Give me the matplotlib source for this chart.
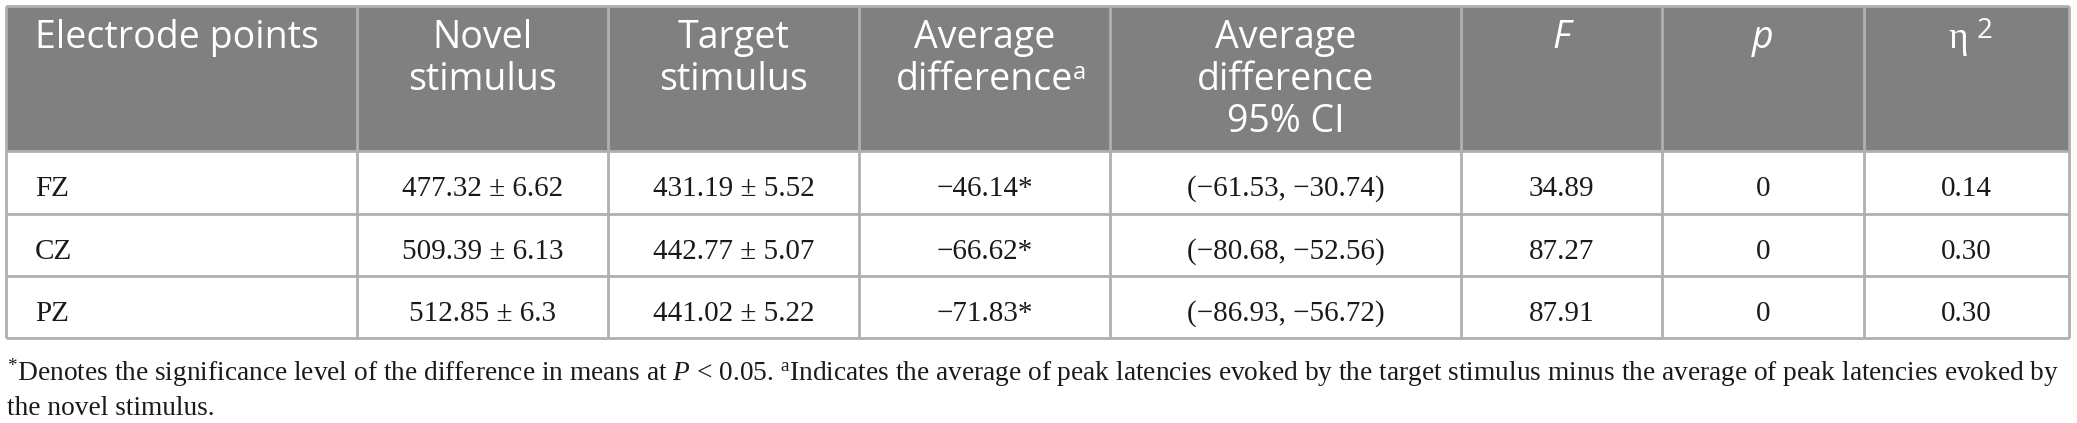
import matplotlib
matplotlib.use("Agg")
import matplotlib.pyplot as plt
from matplotlib.patches import Rectangle

plt.rcParams["mathtext.fontset"] = "custom"
plt.rcParams["mathtext.rm"] = "Liberation Serif"
plt.rcParams["mathtext.it"] = "Liberation Serif:italic"

# Table data
electrodes = ["FZ", "CZ", "PZ"]
novel_mean = [477.32, 509.39, 512.85]
novel_se = [6.62, 6.13, 6.3]
target_mean = [431.19, 442.77, 441.02]
target_se = [5.52, 5.07, 5.22]
avg_diff = [-46.14, -66.62, -71.83]
ci_low = [-61.53, -80.68, -86.93]
ci_high = [-30.74, -52.56, -56.72]
f_values = [34.89, 87.27, 87.91]
p_values = [0, 0, 0]
eta_sq = [0.14, 0.30, 0.30]

headers = [
    ["Electrode points"],
    ["Novel", "stimulus"],
    ["Target", "stimulus"],
    ["Average", "difference"],
    ["Average", "difference", "95% CI"],
    ["F"],
    ["p"],
    ["η"],
]

footnote_lines = [
    r"$^{*}$Denotes the significance level of the difference in means at $P$ < 0.05. "
    r"$^{\mathrm{a}}$Indicates the average of peak latencies evoked by the target stimulus "
    r"minus the average of peak latencies evoked by",
    "the novel stimulus.",
]

# Layout (pixels)
W, H = 2077, 423
col_edges = [6, 357, 608, 859, 1110, 1461, 1662, 1864, 2069]
row_edges = [6, 151, 214, 276, 338]
HEAD_BG = "#808080"
LINE = "#b0b0b0"
SANS = ["Open Sans", "DejaVu Sans"]
SERIF = ["Liberation Serif", "DejaVu Serif"]
HEAD_SIZE = 27
BODY_SIZE = 21
NOTE_SIZE = 19.7


def minus(v):
    return f"{v:.2f}".replace("-", "\u2212")


rows = []
for i in range(len(electrodes)):
    rows.append([
        electrodes[i],
        f"{novel_mean[i]:g} ± {novel_se[i]:g}",
        f"{target_mean[i]:g} ± {target_se[i]:g}",
        minus(avg_diff[i]) + "*",
        f"({minus(ci_low[i])}, {minus(ci_high[i])})",
        f"{f_values[i]:.2f}",
        f"{p_values[i]:g}",
        f"{eta_sq[i]:.2f}",
    ])

fig = plt.figure(figsize=(W / 100, H / 100), dpi=100)
ax = fig.add_axes([0, 0, 1, 1])
ax.set_xlim(0, W)
ax.set_ylim(H, 0)
ax.axis("off")

# header background
ax.add_patch(Rectangle((col_edges[0], row_edges[0]), col_edges[-1] - col_edges[0],
                       row_edges[1] - row_edges[0], facecolor=HEAD_BG, edgecolor="none"))

# grid lines
for y in row_edges:
    ax.hlines(y, col_edges[0], col_edges[-1], color=LINE, lw=2.0)
for x in col_edges:
    ax.vlines(x, row_edges[0], row_edges[-1], color=LINE, lw=2.0)

# header text
line_gap = 42
for j, lines in enumerate(headers):
    x0, x1 = col_edges[j], col_edges[j + 1]
    for k, line in enumerate(lines):
        y = 48 + k * line_gap
        if j == 0:
            t = ax.text(x0 + 29, y, line, ha="left", va="baseline", color="white",
                        fontsize=HEAD_SIZE, family=SANS)
        elif line in ("F", "p"):
            t = ax.text((x0 + x1) / 2, y, line, ha="center", va="baseline", color="white",
                        fontsize=HEAD_SIZE, family=SANS, style="italic")
        elif line == "η":
            t = ax.text((x0 + x1) / 2 - 8, y, line, ha="center", va="baseline", color="white",
                        fontsize=HEAD_SIZE, family=SERIF)
            ax.annotate("2", xy=(1, 1), xycoords=t, xytext=(6, 3), textcoords="offset points",
                        ha="left", va="top", color="white", fontsize=20, family=SANS)
        else:
            t = ax.text((x0 + x1) / 2, y, line, ha="center", va="baseline", color="white",
                        fontsize=HEAD_SIZE, family=SANS)
    if j == 3:
        ax.annotate("a", xy=(1, 1), xycoords=t, xytext=(0, 0), textcoords="offset points",
                    ha="left", va="top", color="white", fontsize=17, family=SANS)

# body text
for i, row in enumerate(rows):
    y = row_edges[i + 1] + 45
    for j, val in enumerate(row):
        x0, x1 = col_edges[j], col_edges[j + 1]
        if j == 0:
            ax.text(x0 + 29, y, val, ha="left", va="baseline", fontsize=BODY_SIZE,
                    family=SERIF, color="#1a1a1a")
        else:
            ax.text((x0 + x1) / 2, y, val, ha="center", va="baseline", fontsize=BODY_SIZE,
                    family=SERIF, color="#1a1a1a")

# footnote
for k, line in enumerate(footnote_lines):
    ax.text(7, 381 + k * 34, line, ha="left", va="baseline", fontsize=NOTE_SIZE,
            family=SERIF, color="#1a1a1a")

fig.savefig("out.png", dpi=100)
